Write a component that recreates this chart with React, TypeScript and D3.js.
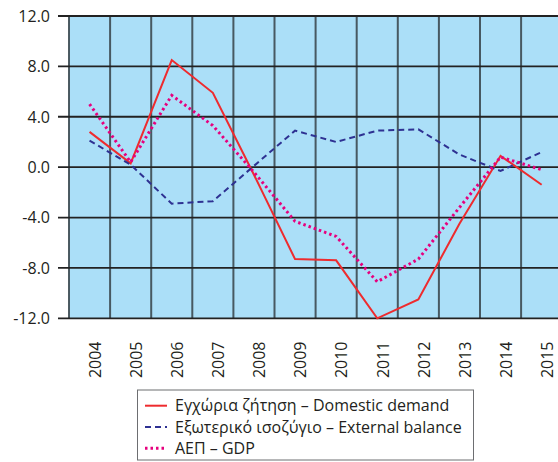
import React from "react";
import * as d3 from "d3";

const years = ["2004","2005","2006","2007","2008","2009","2010","2011","2012","2013","2014","2015"];
const domesticDemand = [2.8, 0.3, 8.5, 5.9, -0.6, -7.3, -7.4, -12.0, -10.5, -4.5, 0.9, -1.4];
const externalBalance = [2.1, 0.2, -2.9, -2.7, 0.1, 2.9, 2.0, 2.9, 3.0, 1.0, -0.3, 1.2];
const gdp = [5.0, 0.4, 5.7, 3.3, -0.4, -4.3, -5.5, -9.1, -7.3, -3.2, 0.8, -0.2];
const yTicks = [12, 8, 4, 0, -4, -8, -12];

const seriesNames = [
  "Εγχώρια ζήτηση – Domestic demand",
  "Εξωτερικό ισοζύγιο – External balance",
  "ΑΕΠ – GDP",
];

const W = 558, H = 462;
const left = 69, top = 16, bottom = 318.3, step = 41.1;
const FONT = "'Open Sans', 'Noto Sans', sans-serif";

export default function App() {
  const x = d3.scaleBand<string>().domain(years).range([left, left + step * years.length]).padding(0);
  const y = d3.scaleLinear().domain([-12, 12]).range([bottom, top]);
  const cx = (i: number) => (x(years[i]) as number) + x.bandwidth() / 2;
  const line = d3.line<number>().x((_, i) => cx(i)).y((d) => y(d));

  const styles = [
    { data: domesticDemand, stroke: "#ee2b2e", width: 2, dash: undefined as string | undefined },
    { data: externalBalance, stroke: "#2e3192", width: 2, dash: "6,4" },
    { data: gdp, stroke: "#e6007e", width: 3, dash: "2.5,3" },
  ];

  const right = left + step * years.length;

  return (
    <svg width={W} height={H} style={{ position: "absolute", left: 0, top: 0, background: "#fff" }} fontFamily={FONT}>
      <rect x={left} y={top} width={right - left} height={bottom - top} fill="#abdff8" />
      {years.map((yr) => (
        <line key={"v" + yr} x1={x(yr)} x2={x(yr)} y1={top} y2={bottom} stroke="#3d4b52" strokeWidth={2} opacity={0.9} />
      ))}
      {yTicks.map((t) => (
        <line key={"h" + t} x1={left - 11} x2={right} y1={y(t)} y2={y(t)} stroke="#222" strokeWidth={1.8} />
      ))}
      {yTicks.map((t) => (
        <text key={"yl" + t} x={50} y={y(t)} dy="0.36em" textAnchor="end" fontSize={16} fill="#231f20">
          {t.toFixed(1)}
        </text>
      ))}
      {years.map((yr, i) => (
        <text
          key={"xl" + yr}
          transform={`translate(${cx(i) + 5.5},341.5) rotate(-90)`}
          dy="0.36em"
          textAnchor="end"
          fontSize={16}
          fill="#231f20"
        >
          {yr}
        </text>
      ))}
      {styles.map((s, k) => (
        <path
          key={"s" + k}
          d={line(s.data) || ""}
          fill="none"
          stroke={s.stroke}
          strokeWidth={s.width}
          strokeDasharray={s.dash}
          strokeLinejoin="miter"
        />
      ))}
      <rect x={137.5} y={390} width={336} height={70} fill="#fff" stroke="#6d6e71" strokeWidth={1} />
      {styles.map((s, k) => {
        const ly = 405.7 + k * 21.3;
        return (
          <g key={"lg" + k}>
            <line x1={145} x2={167} y1={ly} y2={ly} stroke={s.stroke} strokeWidth={s.width} strokeDasharray={s.dash} />
            <text x={175} y={ly} dy="0.36em" fontSize={16} fill="#231f20">
              {seriesNames[k]}
            </text>
          </g>
        );
      })}
    </svg>
  );
}
